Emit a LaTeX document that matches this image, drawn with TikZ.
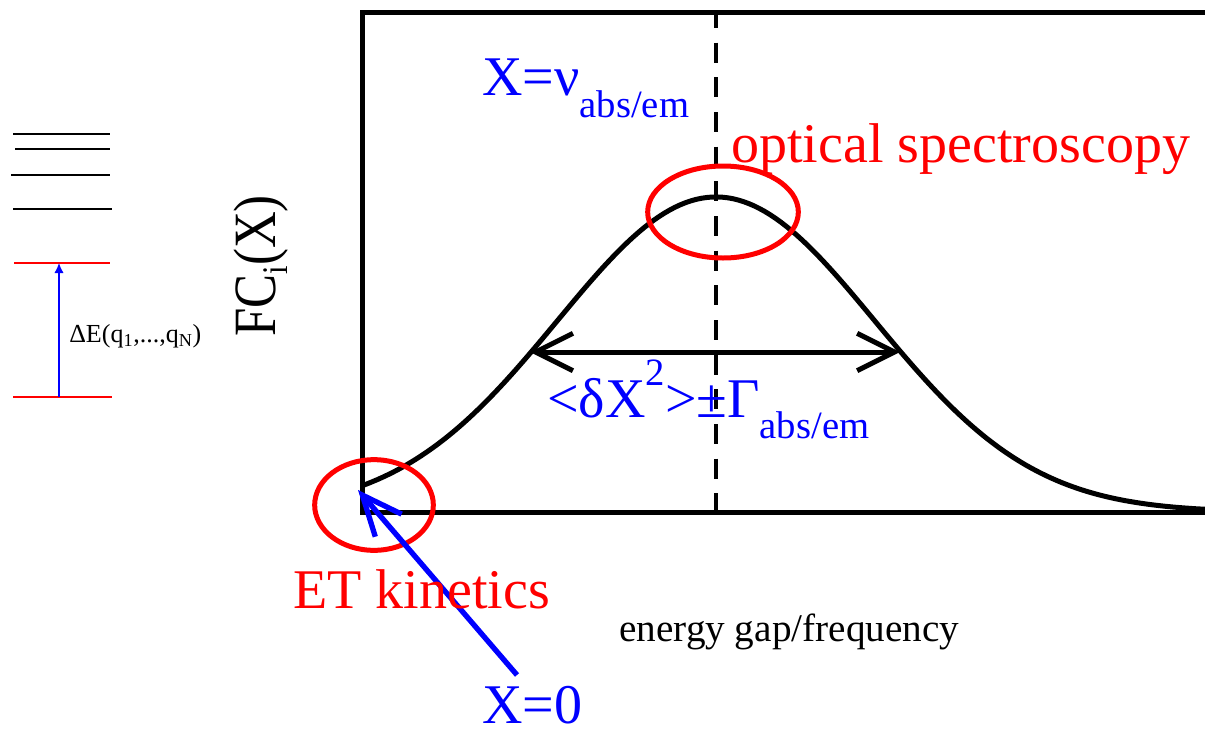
\documentclass[tikz,border=0pt]{standalone}
\usepackage{fontspec}
\setmainfont{Liberation Serif}
\usetikzlibrary{arrows.meta,shapes.geometric}
\newcommand{\fsz}[1]{\fontsize{#1}{#1}\selectfont}
\begin{document}
\begin{tikzpicture}[x=0.75pt,y=-0.75pt,
  frame/.style={line width=3.75pt, line join=miter},
  curve/.style={line width=3.75pt},
  gapline/.style={line width=3pt, dash pattern=on 15pt off 11pt, dash phase=3pt},
  barbs/.style={line width=3.75pt, {Straight Barb[length=28pt,width=28pt]}-{Straight Barb[length=28pt,width=28pt]}},
  bluearrow/.style={blue, line width=4pt, -{Straight Barb[length=30pt,width=26pt]}},
  ring/.style={draw=red, line width=3.75pt, ellipse, inner sep=0pt},
  lbl/.style={inner sep=0pt, anchor=base west},
  level/.style={line width=1.1pt},
]
\useasboundingbox (0,0) rectangle (1205,732);
% frame
\coordinate (tr) at (1205,12);
\coordinate (tl) at (362,12);
\coordinate (bl) at (362,512);
\coordinate (br) at (1205,512);
\draw[frame] (tr) -- (tl) -- (bl) -- (br);
% dashed centre line
\coordinate (dtop) at (716,12);
\coordinate (dbot) at (716,512);
\draw[gapline] (dtop) -- (dbot);
% gaussian
\draw[curve] plot[domain=362:1205, samples=160] (\x, {512-315*exp(-0.5*((\x-716)/158.8)^2)});
% width arrow
\coordinate (hl) at (530,352);
\coordinate (hr) at (900,352);
\draw[barbs] (hl) -- (hr);
% rings
\node[ring, minimum width=113pt, minimum height=69pt] (peak) at (723,212) {};
\node[ring, minimum width=89pt, minimum height=68pt] (zero) at (374,505) {};
% X=0 arrow
\coordinate (tail) at (517,675);
\coordinate (tip) at (358,490);
\draw[bluearrow] (tail) -- (tip);
% labels
\node[lbl, blue] (xnu) at (482,95) {\fsz{42pt}X=ν\raisebox{-17pt}{\fsz{29pt}abs/em}};
\node[lbl, red] (opt) at (731,162) {\fsz{42pt}optical spectroscopy};
\node[lbl, blue] (width) at (547,417) {\fsz{42pt}<δX\raisebox{24pt}{\fsz{29pt}2}>±Γ\raisebox{-16pt}{\fsz{29pt}abs/em}};
\node[lbl, red] (et) at (293,608) {\fsz{42pt}ET kinetics};
\node[lbl, blue] (x0) at (482,723) {\fsz{42pt}X=0};
\node[lbl] (xaxis) at (619,641) {\fsz{29.4pt}energy gap/frequency};
\node[lbl, rotate=90] (yaxis) at (275,337) {\scalebox{0.85}[1]{\fsz{45pt}FC\raisebox{-9pt}{\fsz{27pt}i}(X)}};
% energy levels
\coordinate (a1) at (13,134); \coordinate (a2) at (110,134);
\coordinate (b1) at (15,149); \coordinate (b2) at (110,149);
\coordinate (c1) at (11,175); \coordinate (c2) at (110,175);
\coordinate (d1) at (13,209); \coordinate (d2) at (112,209);
\coordinate (u1) at (14,263); \coordinate (u2) at (110,263);
\coordinate (g1) at (13,397); \coordinate (g2) at (112,397);
\draw[level] (a1) -- (a2);
\draw[level] (b1) -- (b2);
\draw[level] (c1) -- (c2);
\draw[level] (d1) -- (d2);
\draw[level, red] (u1) -- (u2);
\draw[level, red] (g1) -- (g2);
\coordinate (ebot) at (59,397);
\coordinate (etop) at (59,263);
\draw[level, blue, -{Latex[length=7.5pt,width=7pt]}] (ebot) -- (etop);
\node[lbl] (de) at (69,342) {\fsz{19.5pt}ΔE(q\textsubscript{1},...,q\textsubscript{N})};
\end{tikzpicture}
\end{document}
